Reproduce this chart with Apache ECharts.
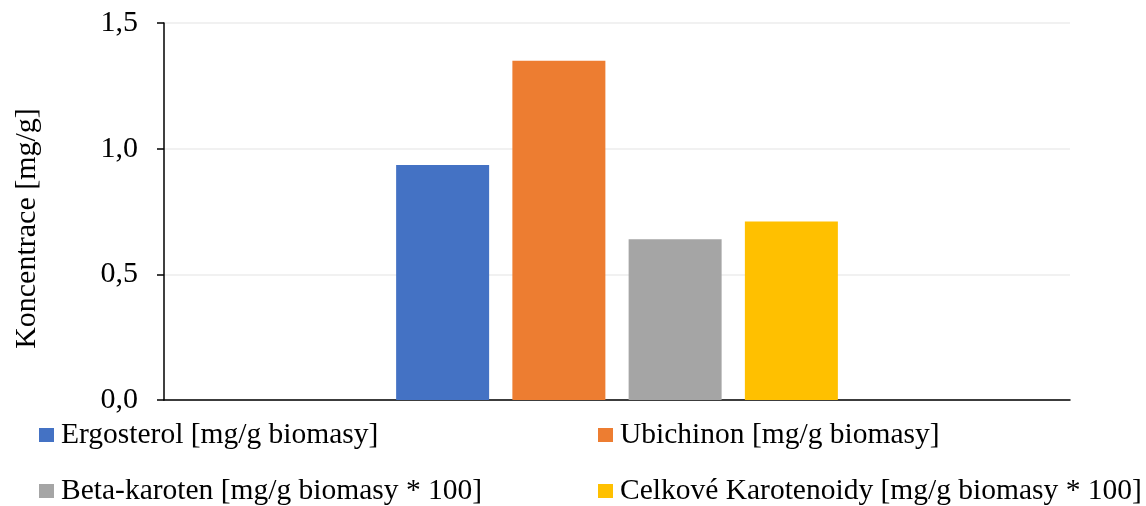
<!DOCTYPE html>
<html>
<head>
<meta charset="utf-8">
<script src="https://cdn.jsdelivr.net/npm/echarts@6/dist/echarts.min.js"></script>
<style>
  html, body { margin: 0; padding: 0; background: #fff; }
  #chart { width: 1146px; height: 506px; }
</style>
</head>
<body>
<div id="chart"></div>
<script>
// data
const seriesNames = [
  'Ergosterol [mg/g biomasy]',
  'Ubichinon [mg/g biomasy]',
  'Beta-karoten [mg/g biomasy * 100]',
  'Celkové Karotenoidy [mg/g biomasy * 100]'
];
const values = [0.935, 1.35, 0.64, 0.71];
const colors = ['#4472C4', '#ED7D31', '#A5A5A5', '#FFC000'];
const categories = [''];
const yTicks = [0, 0.5, 1.0, 1.5];

const font = 'Liberation Serif';

// legend is 2x2, one legend per item so each sits in its own column
const legendPos = [
  { left: 39, top: 420 },
  { left: 598, top: 420 },
  { left: 39, top: 476 },
  { left: 598, top: 476 }
];

const chart = echarts.init(document.getElementById('chart'));
chart.setOption({
  animation: false,
  textStyle: { fontFamily: font },
  grid: { left: 164, right: 76, top: 23, bottom: 106 },
  legend: seriesNames.map((name, i) => ({
    data: [name],
    left: legendPos[i].left,
    top: legendPos[i].top,
    padding: 0,
    icon: 'rect',
    itemWidth: 15,
    itemHeight: 14,
    textStyle: { fontFamily: font, fontSize: 29.5, color: '#000', padding: [0, 0, 0, 2] }
  })),
  xAxis: {
    type: 'category',
    data: categories,
    axisLine: { lineStyle: { color: '#000', width: 1.5 } },
    axisTick: { show: false },
    axisLabel: { show: false }
  },
  yAxis: {
    type: 'value',
    min: yTicks[0],
    max: yTicks[yTicks.length - 1],
    interval: 0.5,
    name: 'Koncentrace [mg/g]',
    nameLocation: 'middle',
    nameGap: 122,
    nameTextStyle: { fontFamily: font, fontSize: 30, color: '#000', padding: [0, 34, 0, 0] },
    axisLine: { show: true, lineStyle: { color: '#000', width: 1.5 } },
    axisTick: { show: true, length: 7, lineStyle: { color: '#000', width: 1.5 } },
    axisLabel: {
      margin: 26,
      fontFamily: font,
      fontSize: 30,
      color: '#000',
      formatter: v => v.toFixed(1).replace('.', ',')
    },
    splitLine: { lineStyle: { color: '#ededed', width: 1.5 } }
  },
  series: seriesNames.map((name, i) => ({
    name: name,
    type: 'bar',
    data: [values[i]],
    barWidth: 93,
    barGap: '25%',
    itemStyle: { color: colors[i] }
  }))
});
</script>
</body>
</html>
